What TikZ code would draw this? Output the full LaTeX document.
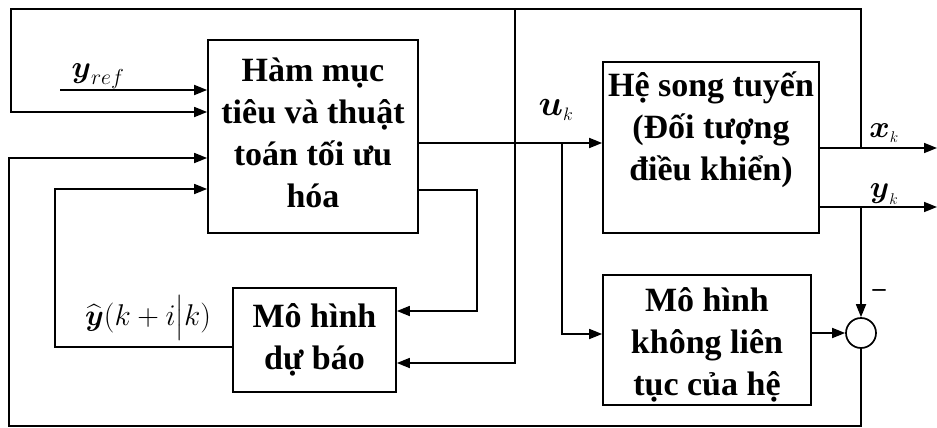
\RequirePackage{fix-cm}
\documentclass[tikz,border=0pt]{standalone}
\usepackage{amsmath}
\usepackage{fontspec}
\setmainfont{Liberation Serif}
\usetikzlibrary{arrows.meta}

\begin{document}
\begin{tikzpicture}[x=1pt, y=-1pt, line width=1.7pt,
  >={Triangle[length=13pt,width=10pt]},
  blk/.style={draw, line width=1.7pt, inner sep=0pt},
  lbl/.style={font=\fontsize{34}{42}\selectfont\bfseries, align=center, inner sep=0pt},
  sig/.style={font=\fontsize{31}{36}\selectfont, inner sep=0pt}]
\useasboundingbox (0,0) rectangle (937,428);

% blocks
\node[blk, minimum width=210pt, minimum height=193pt] (opt)   at (313,136.5) {};
\node[blk, minimum width=216pt, minimum height=171pt] (plant) at (711,147.5) {};
\node[blk, minimum width=163pt, minimum height=104pt] (pred)  at (314.5,340) {};
\node[blk, minimum width=208pt, minimum height=130pt] (model) at (707,340) {};
\node[draw, circle, line width=1.7pt, minimum size=30pt, inner sep=0pt] (sum) at (861,333) {};

% block texts
\node[lbl] (optT)   at (313,133)   {Hàm mục\\tiêu và thuật\\toán tối ưu\\hóa};
\node[lbl] (plantT) at (711,130)   {Hệ song tuyến\\(Đối tượng\\điều khiển)};
\node[lbl] (predT)  at (314.5,340) {Mô hình\\dự báo};
\node[lbl] (modelT) at (707,345)   {Mô hình\\không liên\\tục của hệ};

% signal points
\coordinate (yr)   at (60,90);
\coordinate (xo)   at (937,148);
\coordinate (yo)   at (937,207);
\coordinate (xj)   at (861,148);
\coordinate (xtop) at (861,9);
\coordinate (tl)   at (11,9);
\coordinate (tlb)  at (11,112);
\coordinate (pj)   at (515,9);
\coordinate (pb)   at (515,363);
\coordinate (uj)   at (562,143);
\coordinate (ub)   at (562,334);
\coordinate (or)   at (477,190);
\coordinate (orb)  at (477,311);
\coordinate (yh)   at (55,347);
\coordinate (yht)  at (55,189);
\coordinate (yj)   at (861,207);
\coordinate (br)   at (861,426);
\coordinate (bl)   at (9,426);
\coordinate (blt)  at (9,158);

% connectors
\draw[->] (yr) -- (yr -| opt.west);
\draw[->] (plant.east |- xo) -- (xo);
\draw[->] (plant.east |- yo) -- (yo);
\draw[->] (xj) -- (xtop) -- (tl) -- (tlb) -- (tlb -| opt.west);
\draw[->] (pj) -- (pb) -- (pb -| pred.east);
\draw[->] (opt.east |- uj) -- (uj -| plant.west);
\draw[->] (uj) -- (ub) -- (ub -| model.west);
\draw[->] (opt.east |- or) -- (or) -- (orb) -- (orb -| pred.east);
\draw[->] (pred.west |- yh) -- (yh) -- (yht) -- (yht -| opt.west);
\draw[->] (yj) -- (sum.north);
\draw[->] (model.east |- sum) -- (sum.west);
\draw[->] (sum.south) -- (br) -- (bl) -- (blt) -- (blt -| opt.west);

% signal labels
\node[sig] (yrefL) at (98,76)   {$\boldsymbol{y}_{ref}$};
\node[sig, font=\fontsize{36}{40}\selectfont] (ukL) at (556,110) {$\boldsymbol{u}_{\scriptscriptstyle k}$};
\node[sig] (xkL)   at (884,133) {$\boldsymbol{x}_{\scriptscriptstyle k}$};
\node[sig] (ykL)   at (884,194) {$\boldsymbol{y}_{\scriptscriptstyle k}$};
\node[sig, font=\fontsize{30}{34}\selectfont] (yhL) at (148,318) {$\widehat{\boldsymbol{y}}(k+i\big|k)$};
\node[font=\fontsize{26}{30}\selectfont\bfseries, inner sep=0pt] (minus) at (879,293) {–};
\end{tikzpicture}
\end{document}
